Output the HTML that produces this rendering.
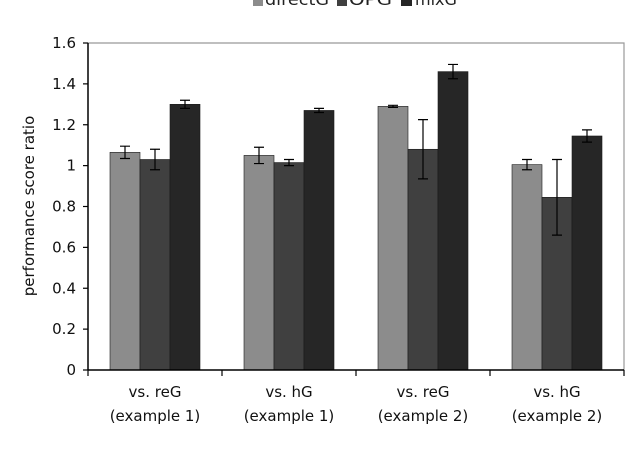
<!DOCTYPE html>
<html><head><meta charset="utf-8"><style>
body{margin:0;background:#fff}
svg{display:block;font-family:"DejaVu Sans","Liberation Sans",sans-serif}
</style></head><body>
<svg id="chart" width="640" height="452">
<g>
 <rect x="253" y="-4" width="10" height="10" fill="#8c8c8c"/>
 <text x="265" y="5" font-size="16" textLength="64" lengthAdjust="spacingAndGlyphs" fill="#222">directG</text>
 <rect x="337" y="-4" width="10" height="10" fill="#404040"/>
 <text x="349" y="5" font-size="16" textLength="43" lengthAdjust="spacingAndGlyphs" fill="#222">OPG</text>
 <rect x="401" y="-4" width="11" height="10" fill="#262626"/>
 <text x="415" y="5" font-size="16" fill="#222">mixG</text>
</g>
<text transform="translate(34,206) rotate(-90)" text-anchor="middle" font-size="15" fill="#111">performance score ratio</text>
</svg>
<script>
const categories=[["vs. reG","(example 1)"],["vs. hG","(example 1)"],["vs. reG","(example 2)"],["vs. hG","(example 2)"]];
const seriesNames=["directG","OPG","mixG"];
const directG=[1.065,1.05,1.29,1.005];
const OPG=[1.03,1.015,1.08,0.845];
const mixG=[1.30,1.27,1.46,1.145];
const directGErr=[0.03,0.04,0.005,0.025];
const OPGErr=[0.05,0.015,0.145,0.185];
const mixGErr=[0.02,0.01,0.035,0.03];
const yTicks=[0,0.2,0.4,0.6,0.8,1,1.2,1.4,1.6];
const yTickLabels=["0","0.2","0.4","0.6","0.8","1","1.2","1.4","1.6"];

const svg=document.getElementById('chart');
const NS='http://www.w3.org/2000/svg';
const L=88,R=624,T=43,B=370,yMax=1.6;
const y=v=>B-(v/yMax)*(B-T);
const gw=(R-L)/categories.length;
const x=(g,s)=>L+g*gw+22+s*30;
function mk(tag,attrs,parent){const e=document.createElementNS(NS,tag);for(const k in attrs)e.setAttribute(k,attrs[k]);(parent||svg).appendChild(e);return e;}

let frame=mk('path',{d:`M${L},${T}H${R}V${B}`,fill:'none',stroke:'#999','stroke-width':1.2});



const series=[directG,OPG,mixG],errs=[directGErr,OPGErr,mixGErr],cols=['#8c8c8c','#404040','#262626'];
series.forEach((vals,s)=>{vals.forEach((v,g)=>{
 const r=mk('rect',{x:x(g,s),y:y(v),width:30,height:B-y(v),fill:cols[s],stroke:'#1a1a1a','stroke-width':0.6});
 
 
 const cx=x(g,s)+15,e=errs[s][g];
 const eb=mk('path',{d:`M${cx},${y(v+e)}V${y(v-e)}M${cx-5},${y(v+e)}H${cx+5}M${cx-5},${y(v-e)}H${cx+5}`,stroke:'#000','stroke-width':1.2,fill:'none'});
 
 
});});

let ya=mk('line',{x1:L,y1:T,x2:L,y2:B,stroke:'#000','stroke-width':1.5});


let xa=mk('line',{x1:L,y1:B,x2:R,y2:B,stroke:'#000','stroke-width':1.5});



yTicks.forEach((t,i)=>{
 mk('line',{x1:L-5,y1:y(t),x2:L,y2:y(t),stroke:'#000','stroke-width':1.2});
 const tx=mk('text',{x:L-12,y:y(t)+5,'text-anchor':'end','font-size':15,fill:'#111'});
 tx.textContent=yTickLabels[i];
 
 
});
for(let g=0;g<=categories.length;g++){mk('line',{x1:L+g*gw,y1:B,x2:L+g*gw,y2:B+6,stroke:'#000','stroke-width':1.2});}
categories.forEach((c,g)=>{
 c.forEach((line,k)=>{
  const tx=mk('text',{x:L+g*gw+gw/2,y:397+k*24,'text-anchor':'middle','font-size':15,fill:'#111'});
  tx.textContent=line;
  
  
 });
});
</script>
</body></html>
